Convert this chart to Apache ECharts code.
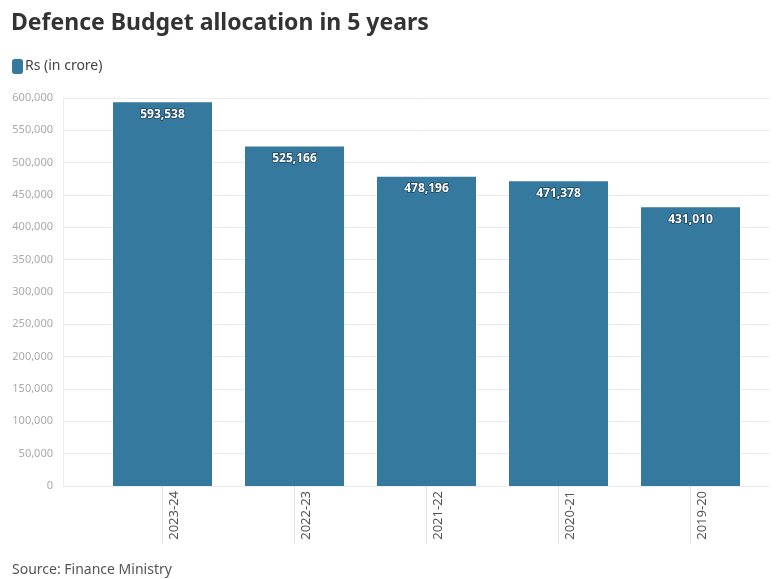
<!DOCTYPE html>
<html>
<head>
<meta charset="utf-8">
<style>
  html, body { margin: 0; padding: 0; background: #fff; }
  #chart { width: 776px; height: 579px; }
</style>
<script src="https://cdn.jsdelivr.net/npm/echarts@6/dist/echarts.min.js"></script>
</head>
<body>
<div id="chart"></div>
<script>
// Defence budget allocation, Rs crore, per financial year
const years = ['2023-24', '2022-23', '2021-22', '2020-21', '2019-20'];
const allocation = [593538, 525166, 478196, 471378, 431010];
const yTicks = { min: 0, max: 600000, step: 50000 };

const FONT = '"Noto Sans", "Open Sans", sans-serif';
const BAR = '#36799f';

const chart = echarts.init(document.getElementById('chart'), null, { renderer: 'canvas' });

const fmt = v => v.toLocaleString('en-US');

chart.setOption({
  animation: false,
  backgroundColor: '#ffffff',
  title: [
    {
      text: 'Defence Budget allocation in 5 years',
      left: 6, top: 7,
      textStyle: { fontFamily: FONT, fontSize: 23, fontWeight: 'bold', color: '#333333' }
    },
    {
      text: 'Source: Finance Ministry',
      left: 7, top: 558,
      textStyle: { fontFamily: FONT, fontSize: 14, fontWeight: 'normal', color: '#555555' }
    }
  ],
  legend: {
    left: 7, top: 54,
    itemWidth: 11, itemHeight: 15, itemGap: 6,
    icon: 'roundRect',
    textStyle: { fontFamily: FONT, fontSize: 14, color: '#444444', padding: [0, 0, 0, -3] },
    data: ['Rs (in crore)']
  },
  grid: [
    // outer frame for the value scale and gridlines
    { left: 63, right: 6, top: 98, bottom: 93, containLabel: false },
    // inner band holding the bars
    { left: 96.5, width: 660, top: 98, bottom: 93, containLabel: false }
  ],
  xAxis: [
    { type: 'category', gridIndex: 0, data: years, show: false },
    {
      type: 'category', gridIndex: 1, data: years,
      axisLine: { show: false },
      axisTick: { show: true, alignWithLabel: true, length: 58, lineStyle: { color: '#e2e2e2' } },
      axisLabel: {
        rotate: 90, margin: 5, verticalAlign: 'top', padding: [5, 0, 0, 0],
        fontFamily: FONT, fontSize: 13, color: '#555555'
      }
    }
  ],
  yAxis: [
    {
      type: 'value', gridIndex: 0, min: yTicks.min, max: yTicks.max, interval: yTicks.step,
      axisLine: { show: true, lineStyle: { color: '#ececec' } },
      axisTick: { show: false },
      splitLine: { lineStyle: { color: '#ececec' } },
      axisLabel: { margin: 10, fontFamily: FONT, fontSize: 11, color: '#aaaaaa', formatter: fmt }
    },
    {
      type: 'value', gridIndex: 1, min: yTicks.min, max: yTicks.max, interval: yTicks.step,
      show: false
    }
  ],
  series: [{
    name: 'Rs (in crore)',
    type: 'bar',
    xAxisIndex: 1, yAxisIndex: 1,
    data: allocation,
    barCategoryGap: '25%',
    itemStyle: { color: BAR },
    label: {
      show: true, position: 'insideTop', distance: 6,
      formatter: p => fmt(p.value),
      fontFamily: FONT, fontSize: 12, fontWeight: 'bold', color: '#ffffff',
      textBorderColor: 'rgba(20,50,70,0.8)', textBorderWidth: 1.5
    }
  }]
});
</script>
</body>
</html>
